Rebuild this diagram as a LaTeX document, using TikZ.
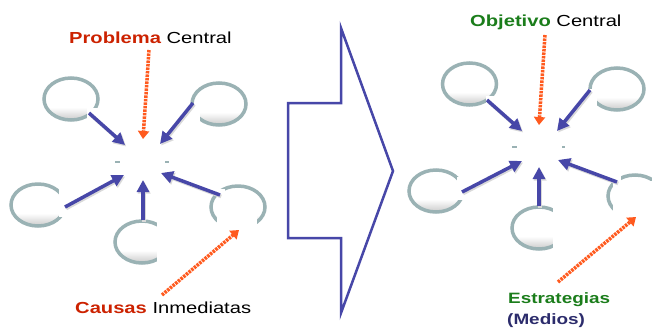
\documentclass[tikz,border=0pt]{standalone}
\usepackage{fontspec}
\setmainfont{Liberation Sans}[FakeStretch=1.26]
\usetikzlibrary{arrows.meta}
\definecolor{arrblue}{HTML}{4747A8}
\definecolor{dotorange}{HTML}{FF5A1E}
\definecolor{ringgray}{HTML}{9AB2B4}
\definecolor{probred}{HTML}{CC2200}
\definecolor{objgreen}{HTML}{1B7D1B}
\definecolor{medionavy}{HTML}{2C2C6C}
\pgfdeclareverticalshading{ringsh}{100bp}{color(0bp)=(gray!40); color(25bp)=(gray!40);
  color(31bp)=(gray!25); color(40bp)=(white); color(100bp)=(white)}
\tikzset{
  ringshade/.style={shading=ringsh},
  ringline/.style={draw=ringgray, line width=3.5pt},
  maskbox/.style={fill=white, draw=none},
  bluearrow/.style={draw=arrblue, line width=3.5pt, -{Triangle[length=12pt,width=12pt]},
    preaction={draw=gray!30, line width=3.5pt, transform canvas={shift={(1.2pt,-1.5pt)}}}},
  dotarrow/.style={draw=dotorange, line width=3.5pt, dash pattern=on 2.5pt off 1pt,
    -{Triangle[length=8pt,width=11pt]}},
  centerdash/.style={draw=ringgray, line width=2pt},
  lbl/.style={inner sep=0pt, anchor=base west, font=\fontsize{16}{19}\selectfont},
  lblsmall/.style={inner sep=0pt, anchor=base west, font=\fontsize{15}{18}\selectfont\bfseries},
  blockarrow/.style={draw=arrblue, line width=2.5pt, line join=miter}
}
\newcommand{\ringat}[2]{%
  \shade[ringshade] (#1) ellipse [x radius=27pt, y radius=21pt];
  \draw[ringline] (#1) ellipse [x radius=27pt, y radius=21pt];}
\begin{document}
\begin{tikzpicture}[x=1pt, y=-1pt]
\useasboundingbox (0,0) rectangle (652,327);
\fill[white] (0,0) rectangle (652,327);

% ---------- left diagram: rings ----------
\ringat{71,99}{}
\ringat{219,104}{}
\ringat{38,205}{}
\ringat{142,242}{}
\ringat{238,207}{}
% masks (white boxes over rings)
\fill[maskbox] (87,108) rectangle (100,124);
\fill[maskbox] (187,104) rectangle (200,123);
\fill[maskbox] (59,187) rectangle (72,217);
\fill[maskbox] (157,212) rectangle (175,270);
\fill[maskbox] (217,189) rectangle (225,240);
\fill[maskbox] (217,196) rectangle (257,240);
% center remnants
\draw[centerdash] (115,162) -- (120,162);
\draw[centerdash] (165,162) -- (169,162);

% ---------- right diagram: rings ----------
\ringat{469.5,84}{}
\ringat{617,89}{}
\ringat{436,191}{}
\ringat{539,228}{}
\ringat{635,196}{}
\fill[maskbox] (486,96) rectangle (499,110);
\fill[maskbox] (584,89) rectangle (597,112);
\fill[maskbox] (457,177) rectangle (470,200);
\fill[maskbox] (553,200) rectangle (570,260);
\fill[maskbox] (613,174) rectangle (621,240);
\fill[maskbox] (613,181) rectangle (652,240);
\draw[centerdash] (512,147) -- (517,147);
\draw[centerdash] (562,147) -- (565,147);

% ---------- coordinates ----------
\coordinate (a1s) at (89,113);  \coordinate (a1e) at (125,145);
\coordinate (a2s) at (193,103); \coordinate (a2e) at (160,144);
\coordinate (a3s) at (65,207);  \coordinate (a3e) at (124,175);
\coordinate (a4s) at (143,220); \coordinate (a4e) at (143,180);
\coordinate (a5s) at (220,195); \coordinate (a5e) at (161,173);
\coordinate (o1s) at (149,50);  \coordinate (o1e) at (143,139);
\coordinate (o2s) at (162,295); \coordinate (o2e) at (239,230);

\coordinate (b1s) at (487,100); \coordinate (b1e) at (522,131);
\coordinate (b2s) at (590,90);  \coordinate (b2e) at (557,131);
\coordinate (b3s) at (462,192); \coordinate (b3e) at (522,161);
\coordinate (b4s) at (539,206); \coordinate (b4e) at (539,167);
\coordinate (b5s) at (617,182); \coordinate (b5e) at (558,160);
\coordinate (p1s) at (545,35);  \coordinate (p1e) at (539,125);
\coordinate (p2s) at (558,282); \coordinate (p2e) at (636,217);

% ---------- arrows ----------
\foreach \n in {a1,a2,a3,a4,a5,b1,b2,b3,b4,b5}
  \draw[bluearrow] (\n s) -- (\n e);
\foreach \n in {o1,o2,p1,p2}
  \draw[dotarrow] (\n s) -- (\n e);

% ---------- block arrow ----------
\draw[blockarrow] (288,103) -- (341,103) -- (341,28) -- (393,171) -- (341,313)
  -- (341,238) -- (288,238) -- cycle;

% ---------- labels ----------
\node[lbl] (prob) at (69,43) {\textcolor{probred}{\bfseries Problema} Central};
\node[lbl] (caus) at (75,313) {\textcolor{probred}{\bfseries Causas} Inmediatas};
\node[lbl] (obj) at (470,26) {\textcolor{objgreen}{\bfseries Objetivo} Central};
\node[lblsmall, text=objgreen] (estr) at (508,303) {Estrategias};
\node[lblsmall, text=medionavy] (med) at (507,324) {(Medios)};
\end{tikzpicture}
\end{document}
